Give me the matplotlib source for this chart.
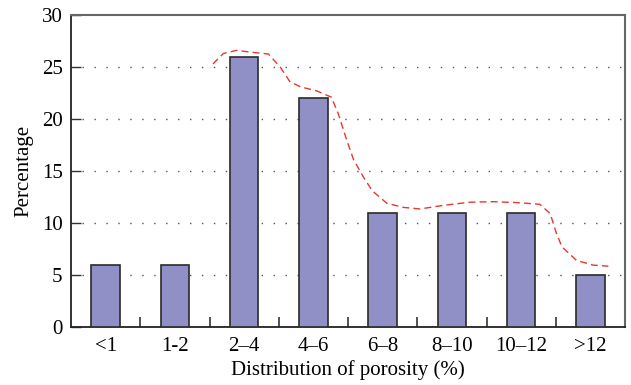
import matplotlib
matplotlib.use("Agg")
import matplotlib.pyplot as plt
import numpy as np

categories = ["<1", "1-2", "2\u20134", "4\u20136", "6\u20138", "8\u201310", "10\u201312", ">12"]
percentages = [6, 6, 26, 22, 11, 11, 11, 5]

# dashed trend curve (x in category units)
curve_x = [1.55, 1.70, 1.89, 2.13, 2.35, 2.52, 2.66, 2.81, 3.05, 3.26, 3.36, 3.48, 3.58,
           3.72, 3.85, 4.06, 4.30, 4.54, 4.88, 5.26, 5.60, 5.98, 6.27, 6.42, 6.51, 6.59,
           6.80, 7.04, 7.26]
curve_y = [25.3, 26.3, 26.6, 26.4, 26.25, 25.0, 23.6, 23.1, 22.7, 22.1, 20.5, 18.0, 16.1,
           14.45, 13.1, 11.9, 11.5, 11.35, 11.7, 12.0, 12.05, 11.95, 11.8, 10.9, 9.0, 7.7,
           6.4, 5.95, 5.85]

plt.rcParams['font.family'] = ['Liberation Serif', 'DejaVu Serif']

fig = plt.figure(figsize=(6.31, 3.85), dpi=100)
ax = fig.add_axes([71/631, 1 - 327/385, (625-71)/631, (327-15)/385])

x = np.arange(len(categories))
ax.bar(x, percentages, width=0.41, color="#9090C6", edgecolor="#2a2a2a", linewidth=1.2, zorder=3)
ax.plot(curve_x, curve_y, color="#E8382A", linestyle=(0, (5, 3)), linewidth=1.0, zorder=4)

ax.set_xlim(-0.5, 7.5)
ax.set_ylim(0, 30)
ax.set_yticks([0, 5, 10, 15, 20, 25, 30])
ax.set_xticks(x)
ax.set_xticklabels(categories)
ax.set_xticks(np.arange(0.5, 7.5, 1), minor=True)
ax.tick_params(axis='x', which='major', length=0, pad=7, labelsize=15)
ax.tick_params(axis='x', which='minor', direction='in', length=7, width=1.2, color="#333333")
ax.tick_params(axis='y', direction='in', length=7, width=1.0, labelsize=15, pad=6, color="#333333")

for y in [5, 10, 15, 20, 25]:
    ax.axhline(y, xmin=0.02, color="#555555", linestyle=(0, (1, 7.6)), linewidth=1.0, zorder=1)

for s in ['left', 'bottom']:
    ax.spines[s].set_color("#222222")
    ax.spines[s].set_linewidth(1.3)
for s in ['top', 'right']:
    ax.spines[s].set_color("#666666")
    ax.spines[s].set_linewidth(1.5)

ax.set_xlabel("Distribution of porosity (%)", fontsize=15, labelpad=3)
ax.set_ylabel("Percentage", fontsize=15, labelpad=6)

fig.savefig("out.png", dpi=100)
